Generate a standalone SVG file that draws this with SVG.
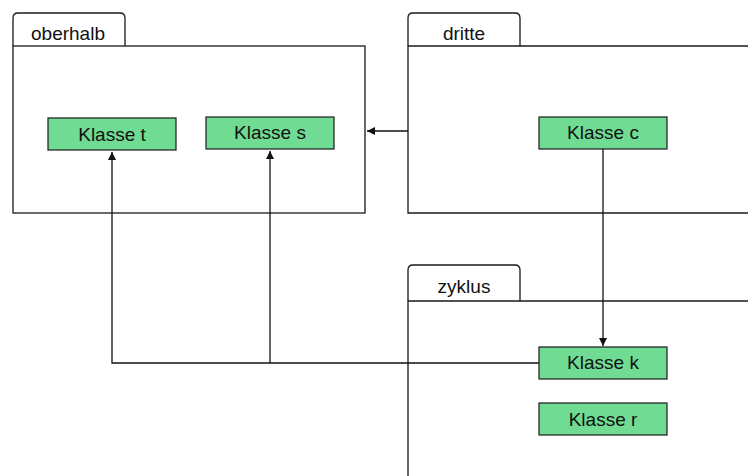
<svg xmlns="http://www.w3.org/2000/svg" width="748" height="476" viewBox="0 0 748 476">
  <style>
    .pkg { fill: #ffffff; stroke: #1a1a1a; stroke-width: 1.3; }
    .cls { fill: #70db93; stroke: #1a1a1a; stroke-width: 1.2; }
    .lbl { font-family: "Liberation Sans", Arial, sans-serif; font-size: 19px; fill: #111111; text-anchor: middle; }
    .edge { fill: none; stroke: #111111; stroke-width: 1.3; }
  </style>
  <defs>
    <marker id="arrow" viewBox="0 0 10 10" refX="10" refY="5" markerWidth="9" markerHeight="8" markerUnits="userSpaceOnUse" orient="auto">
      <path d="M0,0 L10,5 L0,10 z" fill="#111111"/>
    </marker>
  </defs>

  <!-- package: oberhalb -->
  <g id="pkg-oberhalb">
    <path class="pkg" d="M13,46 L13,18 Q13,13 18,13 L120,13 Q125,13 125,18 L125,46"/>
    <rect class="pkg" x="13" y="46" width="352" height="167"/>
    <text class="lbl" x="68" y="40">oberhalb</text>
  </g>

  <!-- package: dritte -->
  <g id="pkg-dritte">
    <path class="pkg" d="M408,46 L408,18 Q408,13 413,13 L515,13 Q520,13 520,18 L520,46"/>
    <path class="pkg" d="M752,46 L408,46 L408,213 L752,213"/>
    <text class="lbl" x="464" y="40">dritte</text>
  </g>

  <!-- package: zyklus -->
  <g id="pkg-zyklus">
    <path class="pkg" d="M408,301 L408,270 Q408,265 413,265 L515,265 Q520,265 520,270 L520,301"/>
    <path class="pkg" d="M752,301 L408,301 L408,480"/>
    <text class="lbl" x="464" y="293">zyklus</text>
  </g>

  <!-- connectors -->
  <g id="connectors">
    <line class="edge" x1="408" y1="131" x2="367" y2="131" marker-end="url(#arrow)"/>
    <line class="edge" x1="603" y1="149" x2="603" y2="346" marker-end="url(#arrow)"/>
    <path class="edge" d="M539,363 L112,363 L112,152" marker-end="url(#arrow)"/>
    <path class="edge" d="M270,363 L270,151" marker-end="url(#arrow)"/>
  </g>

  <!-- classes -->
  <g id="cls-t">
    <rect class="cls" x="48" y="118" width="128" height="32"/>
    <text class="lbl" x="112" y="141">Klasse t</text>
  </g>
  <g id="cls-s">
    <rect class="cls" x="206" y="117" width="128" height="32"/>
    <text class="lbl" x="270" y="139">Klasse s</text>
  </g>
  <g id="cls-c">
    <rect class="cls" x="539" y="117" width="128" height="32"/>
    <text class="lbl" x="603" y="139">Klasse c</text>
  </g>
  <g id="cls-k">
    <rect class="cls" x="539" y="347" width="128" height="32"/>
    <text class="lbl" x="603" y="369">Klasse k</text>
  </g>
  <g id="cls-r">
    <rect class="cls" x="539" y="403" width="128" height="32"/>
    <text class="lbl" x="603" y="426">Klasse r</text>
  </g>
</svg>
